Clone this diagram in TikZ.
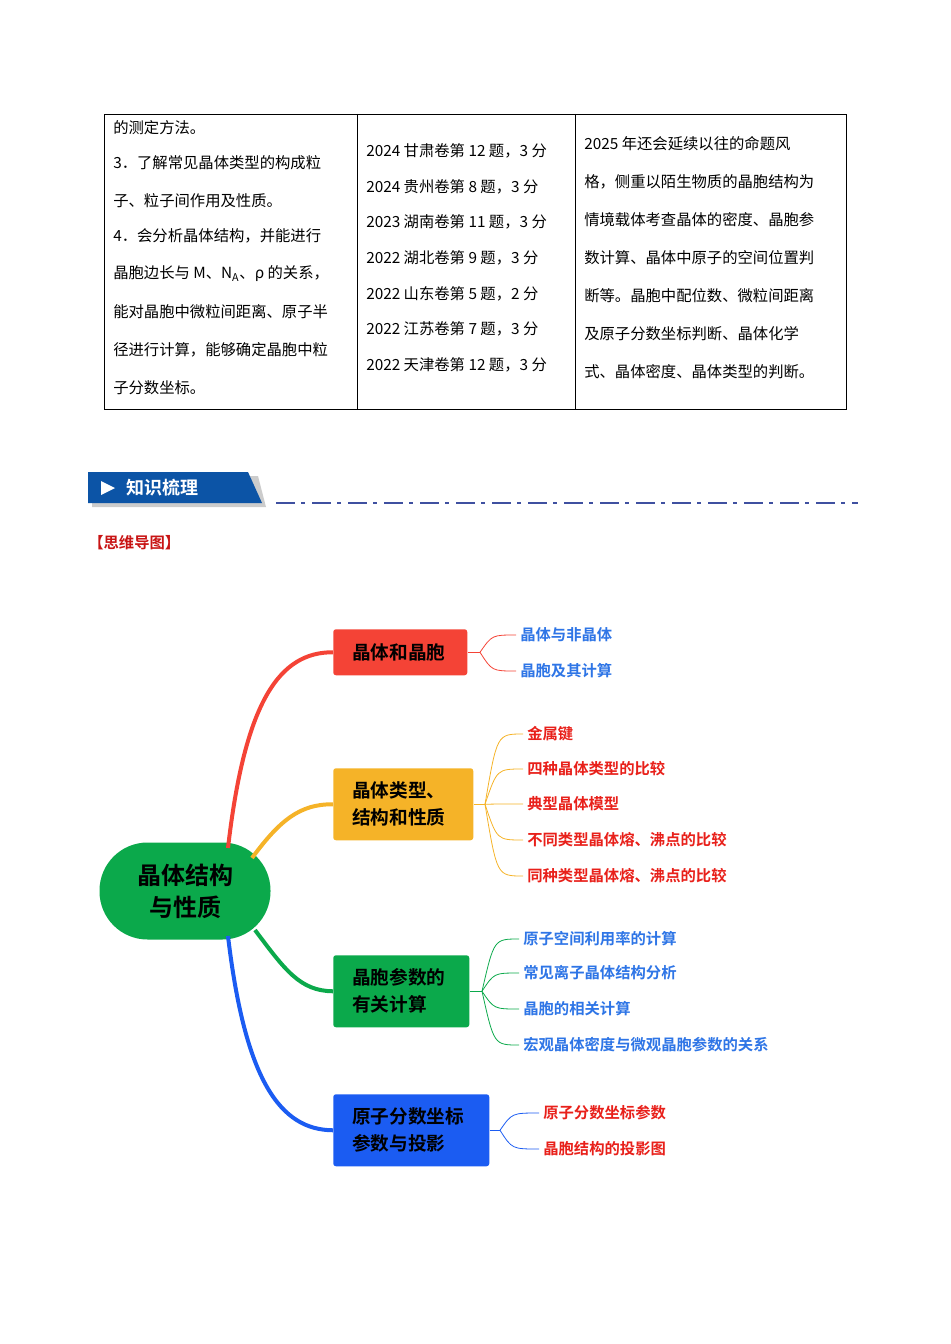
\documentclass[tikz,border=0pt]{standalone}
\usepackage{fontspec}
\setmainfont{Liberation Serif}
\newfontfamily\cjk{Noto Sans CJK SC}
\newfontfamily\cjkb{Noto Sans CJK SC Bold}
\begin{document}
\begin{tikzpicture}[x=0.75pt,y=-0.75pt,
  tt/.style={anchor=west,inner sep=0,font=\fontsize{11.5}{12}\cjk},
  box/.style={rounded corners=2pt,anchor=north west,inner sep=0},
  bt/.style={anchor=west,inner sep=0,font=\fontsize{14}{20}\cjkb,align=left},
  leaf/.style={anchor=west,inner sep=0,font=\fontsize{11.5}{12}\cjkb},
  main/.style={line width=3pt}]
\useasboundingbox (0,0) rectangle (950,1344);
\definecolor{cr}{HTML}{F44336}\definecolor{cy}{HTML}{F5B328}
\definecolor{cg}{HTML}{0BA94B}\definecolor{cb}{HTML}{1B5CF2}
\definecolor{lb}{HTML}{2E75E6}\definecolor{lr}{HTML}{E8201A}
% table
\draw[line width=0.6pt] (104,114) rectangle (846,409) (357,114)--(357,409) (575,114)--(575,409);
\foreach \y/\t in {128/的测定方法。,163/3．了解常见晶体类型的构成粒,201/子、粒子间作用及性质。,236/4．会分析晶体结构，并能进行,274/{晶胞边长与 M、N\textsubscript{A}、ρ 的关系，},312/能对晶胞中微粒间距离、原子半,350/径进行计算，能够确定晶胞中粒,388/子分数坐标。}
  \node[tt] at (113,\y) {\t};
\foreach \y/\t in {151/甘肃卷第 12 题，3 分,187/贵州卷第 8 题，3 分}
  \node[tt] at (366,\y) {2024 \t};
\foreach \y/\t in {222/湖南卷第 11 题，3 分}
  \node[tt] at (366,\y) {2023 \t};
\foreach \y/\t in {258/湖北卷第 9 题，3 分,294/山东卷第 5 题，2 分,329/江苏卷第 7 题，3 分,365/天津卷第 12 题，3 分}
  \node[tt] at (366,\y) {2022 \t};
\foreach \y/\t in {144/2025 年还会延续以往的命题风,182/格，侧重以陌生物质的晶胞结构为,220/情境载体考查晶体的密度、晶胞参,258/数计算、晶体中原子的空间位置判,296/断等。晶胞中配位数、微粒间距离,334/及原子分数坐标判断、晶体化学,372/式、晶体密度、晶体类型的判断。}
  \node[tt] at (584,\y) {\t};
% header
\fill[gray!40] (92,476)--(258,476)--(266,507)--(92,507)--cycle;
\fill[fill={rgb,255:red,12;green,84;blue,166}] (88,472)--(248,472)--(262,503)--(88,503)--cycle;
\fill[white] (101,481)--(115,488)--(101,495)--cycle;
\node[anchor=west,inner sep=0,text=white,font=\fontsize{13.5}{14}\cjkb] (hd) at (126,488) {知识梳理};
\draw[line width=2.2pt,color={rgb,255:red,63;green,80;blue,160},dash pattern=on 14pt off 5pt on 3pt off 5pt] (276,503)--(858,503);
\node[anchor=west,inner sep=0,text={rgb,255:red,200;green,20;blue,20},font=\fontsize{11.5}{12}\cjkb] (mm) at (88,543) {【思维导图】};
% central
\node[fill=cg,rounded corners=36pt,minimum width=171pt*0.75,minimum height=97pt*0.75,inner sep=0,font=\fontsize{18}{24}\cjkb,align=center] (c) at (185,891) {晶体结构\\与性质};
% boxes
\node[box,fill=cr,minimum width=134*0.75pt,minimum height=46*0.75pt] (b1) at (333,629) {};
\node[bt] at (352,652) {晶体和晶胞};
\node[box,fill=cy,minimum width=140*0.75pt,minimum height=72*0.75pt] (b2) at (333,768) {};
\node[bt] at (352,804) {晶体类型、\\结构和性质};
\node[box,fill=cg,minimum width=136*0.75pt,minimum height=72*0.75pt] (b3) at (333,955) {};
\node[bt] at (352,991) {晶胞参数的\\有关计算};
\node[box,fill=cb,minimum width=156*0.75pt,minimum height=72*0.75pt] (b4) at (333,1094) {};
\node[bt] at (352,1130) {原子分数坐标\\参数与投影};
% main curves
\draw[main,cr] (228,848) .. controls (245,700) and (280,652) .. (b1.west);
\draw[main,cy] (252,858) .. controls (280,820) and (300,804) .. (b2.west);
\draw[main,cg] (255,930) .. controls (285,970) and (300,991) .. (b3.west);
\draw[main,cb] (228,936) .. controls (245,1080) and (280,1130) .. (b4.west);
% leaves
\foreach \f/\fx/\lx/\col/\tc/\lst in {
  b1/480/520/cr/lb/{635/晶体与非晶体,671/晶胞及其计算},
  b2/485/527/cy/lr/{734/金属键,769/四种晶体类型的比较,804/典型晶体模型,840/不同类型晶体熔、沸点的比较,876/同种类型晶体熔、沸点的比较},
  b3/482/523/cg/lb/{939/原子空间利用率的计算,973/常见离子晶体结构分析,1009/晶胞的相关计算,1045/宏观晶体密度与微观晶胞参数的关系},
  b4/500/543/cb/lr/{1113/原子分数坐标参数,1149/晶胞结构的投影图}} {
  \coordinate (f) at (\fx,0 |- \f.east);
  \draw[\col,line width=0.6pt] (\f.east)--(f);
  \foreach \y/\t in \lst {
    \node[leaf,text=\tc] (l) at (\lx,\y) {\t};
    \draw[\col,line width=0.6pt] (f) .. controls (\fx+12,\y) .. ([xshift=-3pt]l.west);
  }
}
\end{tikzpicture}
\end{document}
